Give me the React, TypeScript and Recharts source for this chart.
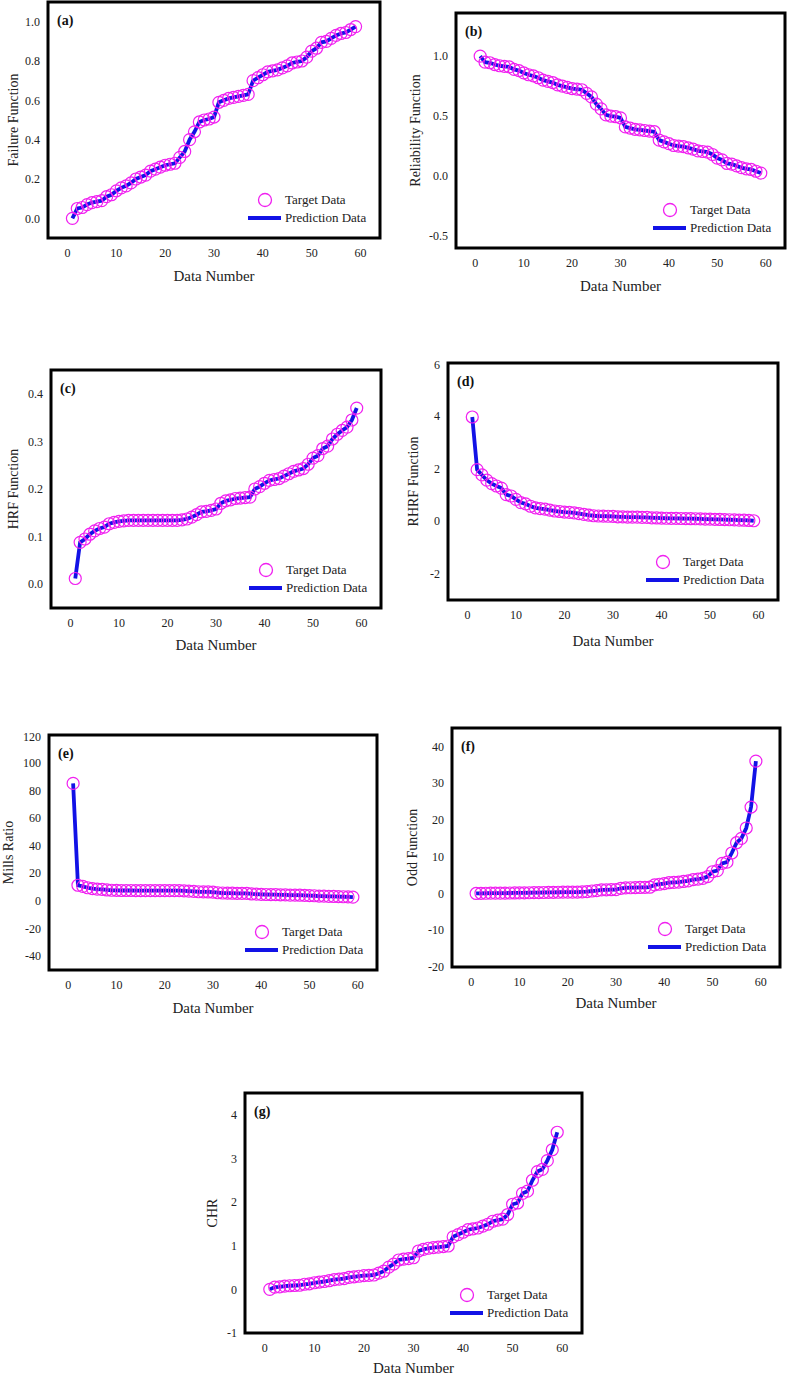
import React from "react";
import { ComposedChart, Line, XAxis, YAxis, ReferenceArea, Legend } from "recharts";

// x = data number 1..59
const DATA_NUMBER = Array.from({ length: 59 }, (_, i) => i + 1);
const X_TICKS = [0, 10, 20, 30, 40, 50, 60];

const FAILURE = [
  0.0, 0.05, 0.055, 0.07, 0.08, 0.085, 0.09, 0.11, 0.12, 0.14,
  0.155, 0.165, 0.18, 0.2, 0.21, 0.22, 0.24, 0.25, 0.26, 0.27,
  0.275, 0.28, 0.31, 0.34, 0.4, 0.44, 0.49, 0.5, 0.505, 0.515,
  0.59, 0.6, 0.61, 0.615, 0.62, 0.625, 0.63, 0.7, 0.715, 0.73,
  0.745, 0.75, 0.755, 0.765, 0.775, 0.79, 0.795, 0.8, 0.82, 0.85,
  0.865, 0.895, 0.9, 0.915, 0.93, 0.94, 0.945, 0.96, 0.975,
];

const RELIABILITY = [
  1.0, 0.95, 0.945, 0.93, 0.92, 0.915, 0.91, 0.89, 0.88, 0.86,
  0.845, 0.835, 0.82, 0.8, 0.79, 0.78, 0.76, 0.75, 0.74, 0.73,
  0.725, 0.72, 0.69, 0.66, 0.6, 0.56, 0.51, 0.5, 0.495, 0.485,
  0.41, 0.4, 0.39, 0.385, 0.38, 0.375, 0.37, 0.3, 0.285, 0.27,
  0.255, 0.25, 0.245, 0.235, 0.225, 0.21, 0.205, 0.2, 0.18, 0.15,
  0.135, 0.105, 0.1, 0.085, 0.07, 0.06, 0.055, 0.04, 0.025,
];

const HRF = [
  0.012, 0.088, 0.095, 0.105, 0.112, 0.117, 0.12, 0.127, 0.13, 0.132,
  0.133, 0.134, 0.134, 0.134, 0.134, 0.134, 0.134, 0.134, 0.134, 0.134,
  0.134, 0.134, 0.135, 0.137, 0.141, 0.146, 0.152, 0.153, 0.155, 0.158,
  0.17, 0.175, 0.177, 0.18, 0.181, 0.182, 0.183, 0.2, 0.205, 0.212,
  0.218, 0.22, 0.222, 0.227, 0.232, 0.237, 0.24, 0.243, 0.252, 0.265,
  0.27, 0.285, 0.29, 0.305, 0.315, 0.323, 0.33, 0.345, 0.37,
];

const RHRF = [
  3.95, 1.95, 1.75, 1.55, 1.42, 1.33, 1.25, 1.0, 0.95, 0.82,
  0.7, 0.65, 0.56, 0.5, 0.47, 0.45, 0.41, 0.38, 0.36, 0.34,
  0.33, 0.31, 0.28, 0.25, 0.22, 0.2, 0.19, 0.185, 0.18, 0.175,
  0.16, 0.155, 0.15, 0.148, 0.145, 0.14, 0.138, 0.12, 0.115, 0.11,
  0.105, 0.1, 0.098, 0.095, 0.09, 0.087, 0.085, 0.08, 0.075, 0.07,
  0.065, 0.058, 0.055, 0.048, 0.042, 0.035, 0.03, 0.02, 0.01,
];

const MILLS = [
  85, 11.3, 10.5, 9.5, 8.9, 8.5, 8.3, 7.9, 7.7, 7.6,
  7.5, 7.5, 7.5, 7.45, 7.45, 7.45, 7.45, 7.45, 7.45, 7.45,
  7.45, 7.45, 7.4, 7.3, 7.1, 6.85, 6.6, 6.55, 6.45, 6.3,
  5.9, 5.7, 5.65, 5.55, 5.5, 5.5, 5.45, 5.0, 4.9, 4.7,
  4.6, 4.55, 4.5, 4.4, 4.3, 4.2, 4.15, 4.1, 4.0, 3.8,
  3.7, 3.5, 3.45, 3.3, 3.2, 3.1, 3.0, 2.9, 2.7,
];

const ODD = [
  0, 0.05, 0.06, 0.075, 0.087, 0.093, 0.1, 0.124, 0.136, 0.163,
  0.183, 0.198, 0.22, 0.25, 0.266, 0.282, 0.316, 0.333, 0.351, 0.37,
  0.379, 0.389, 0.449, 0.515, 0.667, 0.786, 0.96, 1.0, 1.02, 1.06,
  1.41, 1.5, 1.56, 1.6, 1.63, 1.67, 1.7, 2.33, 2.51, 2.7,
  2.92, 3.0, 3.08, 3.26, 3.44, 3.76, 3.88, 4.1, 4.6, 5.9,
  6.2, 8.2, 8.5, 11.0, 13.8, 15.0, 17.8, 23.5, 36,
];

const CHR = [
  0, 0.051, 0.057, 0.073, 0.083, 0.089, 0.094, 0.117, 0.128, 0.151,
  0.168, 0.18, 0.198, 0.223, 0.236, 0.248, 0.274, 0.288, 0.301, 0.315,
  0.322, 0.329, 0.371, 0.416, 0.511, 0.58, 0.673, 0.693, 0.703, 0.724,
  0.879, 0.916, 0.942, 0.955, 0.968, 0.981, 0.994, 1.204, 1.255, 1.309,
  1.367, 1.386, 1.406, 1.448, 1.492, 1.561, 1.585, 1.609, 1.715, 1.95,
  1.98, 2.2, 2.25, 2.5, 2.7, 2.75, 2.95, 3.2, 3.6,
];

const FONT = "'Liberation Serif', 'Times New Roman', serif";
const MAGENTA = "#f020f0";
const BLUE = "#1212e6";
const INK = "#222";
const X_DOMAIN = [-4, 64];

const PANELS = [
  { tag: "(a)", yLabel: "Failure Function", target: FAILURE, pred: FAILURE, yDomain: [-0.1, 1.1], yTicks: [0, 0.2, 0.4, 0.6, 0.8, 1.0], digits: 1, frame: [48, 2, 380, 238], yGap: 35, xh: 52, xBase: 43 },
  { tag: "(b)", yLabel: "Reliability Function", target: RELIABILITY, pred: RELIABILITY, yDomain: [-0.6, 1.36], yTicks: [-0.5, 0, 0.5, 1.0], digits: 1, frame: [456, 13, 785, 248], yGap: 41, xh: 52, xBase: 43 },
  { tag: "(c)", yLabel: "HRF Function", target: HRF, pred: HRF, yDomain: [-0.05, 0.45], yTicks: [0, 0.1, 0.2, 0.3, 0.4], digits: 1, frame: [51, 370, 381, 608], yGap: 38, xh: 52, xBase: 42 },
  { tag: "(d)", yLabel: "RHRF Function", target: RHRF, pred: RHRF, yDomain: [-3, 6], yTicks: [-2, 0, 2, 4, 6], digits: 0, frame: [448, 363, 778, 600], yGap: 35, xh: 52, xBase: 46 },
  { tag: "(e)", yLabel: "Mills Ratio", target: MILLS, pred: MILLS, yDomain: [-50, 120], yTicks: [-40, -20, 0, 20, 40, 60, 80, 100, 120], digits: 0, frame: [49, 735, 377, 970], yGap: 41, xh: 52, xBase: 43 },
  { tag: "(f)", yLabel: "Odd Function", target: ODD, pred: ODD, yDomain: [-20, 45], yTicks: [-20, -10, 0, 10, 20, 30, 40], digits: 0, frame: [452, 728, 780, 967], yGap: 40, xh: 52, xBase: 41 },
  { tag: "(g)", yLabel: "CHR", target: CHR, pred: CHR, yDomain: [-1, 4.5], yTicks: [-1, 0, 1, 2, 3, 4], digits: 0, frame: [245, 1093, 582, 1333], yGap: 33, xh: 44, xBase: 40 },
];

const YW = 50;
const MT = 6;
const MR = 2;

function LegendBox(props: any) {
  const items = props.payload || [];
  const nameOf = (key: string, fallback: string) => {
    const it = items.find((d: any) => d.dataKey === key);
    return it ? it.value : fallback;
  };
  return (
    <svg width={140} height={40} style={{ display: "block" }}>
      <circle cx={20} cy={12} r={6.5} fill="none" stroke={MAGENTA} strokeWidth={1.3} />
      <text x={40} y={16} fontFamily={FONT} fontSize={13} fill={INK}>{nameOf("target", "Target Data")}</text>
      <line x1={3} y1={30} x2={36} y2={30} stroke={BLUE} strokeWidth={3.8} />
      <text x={40} y={34} fontFamily={FONT} fontSize={13} fill={INK}>{nameOf("pred", "Prediction Data")}</text>
    </svg>
  );
}

function Panel({ p }: { p: any }) {
  const [fl, ft, fr, fb] = p.frame;
  const w = fr - fl + YW + MR;
  const h = fb - ft + MT + p.xh;
  const data = DATA_NUMBER.map((x, i) => ({ x, target: p.target[i], pred: p.pred[i] }));
  const tickStyle = { fontFamily: FONT, fontSize: 12, fill: INK };
  return (
    <div style={{ position: "absolute", left: fl - YW, top: ft - MT }}>
      <ComposedChart width={w} height={h} data={data} margin={{ top: MT, right: MR, left: 0, bottom: 0 }}>
        <XAxis
          type="number"
          dataKey="x"
          domain={X_DOMAIN}
          ticks={X_TICKS}
          allowDataOverflow
          axisLine={false}
          tickLine={false}
          tickMargin={4}
          height={p.xh}
          tick={tickStyle}
          label={(lp: any) => {
            const vb = lp.viewBox;
            return (
              <text x={vb.x + vb.width / 2} y={vb.y + p.xBase} textAnchor="middle" fontFamily={FONT} fontSize={15} fill={INK}>
                Data Number
              </text>
            );
          }}
        />
        <YAxis
          type="number"
          domain={p.yDomain}
          ticks={p.yTicks}
          allowDataOverflow
          axisLine={false}
          tickLine={false}
          width={YW}
          tick={tickStyle}
          tickFormatter={(v: number) => v.toFixed(p.digits)}
          label={(lp: any) => {
            const vb = lp.viewBox;
            const cx = vb.x + vb.width - p.yGap;
            const cy = vb.y + vb.height / 2;
            return (
              <text x={cx} y={cy} transform={`rotate(-90, ${cx}, ${cy})`} textAnchor="middle" dominantBaseline="central" fontFamily={FONT} fontSize={14} fill={INK}>
                {p.yLabel}
              </text>
            );
          }}
        />
        <ReferenceArea
          x1={X_DOMAIN[0]}
          x2={X_DOMAIN[1]}
          y1={p.yDomain[0]}
          y2={p.yDomain[1]}
          fill="none"
          stroke="#000"
          strokeWidth={3}
          ifOverflow="visible"
          label={(lp: any) => {
            const vb = lp.viewBox;
            return (
              <text x={vb.x + 9} y={vb.y + 23} fontFamily={FONT} fontSize={14} fontWeight="bold" fill="#111">
                {p.tag}
              </text>
            );
          }}
        />
        <Line
          dataKey="target"
          name="Target Data"
          stroke="none"
          dot={{ r: 6, stroke: MAGENTA, strokeWidth: 1.2, fill: "none" }}
          activeDot={false}
          isAnimationActive={false}
        />
        <Line
          dataKey="pred"
          name="Prediction Data"
          type="linear"
          stroke={BLUE}
          strokeWidth={3.8}
          dot={false}
          activeDot={false}
          isAnimationActive={false}
        />
        <Legend
          layout="vertical"
          verticalAlign="middle"
          align="center"
          wrapperStyle={{ left: fr - 135 - (fl - YW), top: fb - 50 - (ft - MT), width: 140, height: 40, right: "auto", bottom: "auto" }}
          content={<LegendBox />}
        />
      </ComposedChart>
    </div>
  );
}

export default function App() {
  return (
    <div style={{ position: "absolute", left: 0, top: 0, width: 787, height: 1377, background: "#fff", overflow: "hidden" }}>
      {PANELS.map((p) => (
        <Panel key={p.tag} p={p} />
      ))}
    </div>
  );
}
